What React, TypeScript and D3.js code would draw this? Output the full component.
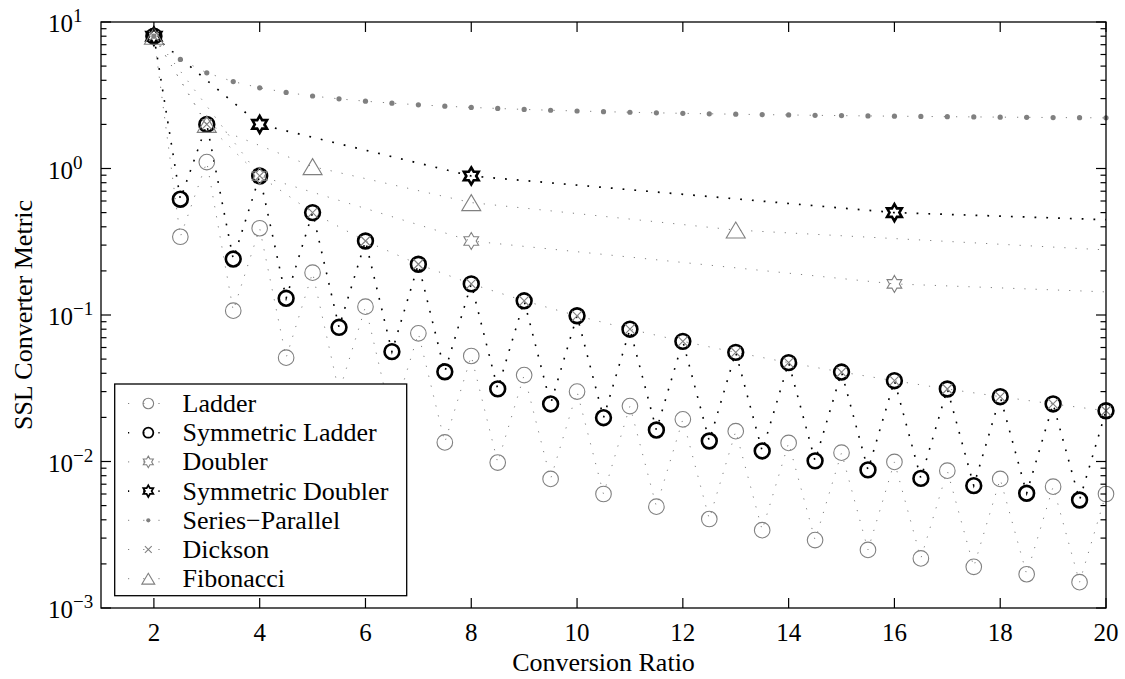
import React from "react";
import * as d3 from "d3";

// ---------- data ----------
const halfSteps = [2, 2.5, 3, 3.5, 4, 4.5, 5, 5.5, 6, 6.5, 7, 7.5, 8, 8.5, 9, 9.5, 10, 10.5, 11, 11.5, 12, 12.5, 13, 13.5, 14, 14.5, 15, 15.5, 16, 16.5, 17, 17.5, 18, 18.5, 19, 19.5, 20];
const ladderValues = [8, 0.342, 1.107, 0.107, 0.391, 0.0511, 0.1945, 0.0297, 0.114, 0.0191, 0.075, 0.0135, 0.0525, 0.00984, 0.0389, 0.0076, 0.03, 0.006, 0.0239, 0.00492, 0.0194, 0.00405, 0.0161, 0.0034, 0.0134, 0.00291, 0.01148, 0.00249, 0.00993, 0.00218, 0.00866, 0.00191, 0.0076, 0.0017, 0.00673, 0.0015, 0.006];
const symLadderValues = [8, 0.617, 2.0, 0.241, 0.889, 0.13, 0.5, 0.0824, 0.32, 0.0562, 0.222, 0.041, 0.163, 0.0313, 0.125, 0.0247, 0.0988, 0.0199, 0.08, 0.0164, 0.0661, 0.0138, 0.0556, 0.0118, 0.0473, 0.0101, 0.0408, 0.00876, 0.0356, 0.00767, 0.03125, 0.00684, 0.0277, 0.00607, 0.0247, 0.00546, 0.0222];
const seriesParallelValues = [8, 5.556, 4.5, 3.92, 3.556, 3.306, 3.125, 2.988, 2.88, 2.793, 2.722, 2.663, 2.612, 2.569, 2.531, 2.498, 2.469, 2.443, 2.42, 2.399, 2.38, 2.363, 2.347, 2.333, 2.32, 2.307, 2.296, 2.285, 2.276, 2.266, 2.258, 2.25, 2.242, 2.235, 2.228, 2.222, 2.216];
const integerSteps = [2, 3, 4, 5, 6, 7, 8, 9, 10, 11, 12, 13, 14, 15, 16, 17, 18, 19, 20];
const dicksonValues = [8, 2, 0.889, 0.5, 0.32, 0.222, 0.163, 0.125, 0.0988, 0.08, 0.0661, 0.0556, 0.0473, 0.0408, 0.0356, 0.03125, 0.0277, 0.0247, 0.0222];
const doublerSteps = [2, 4, 8, 16, 32];
const doublerValues = [8, 0.889, 0.32, 0.163, 0.0988];
const symDoublerValues = [8, 2, 0.889, 0.5, 0.32];
const fibonacciSteps = [2, 3, 5, 8, 13, 21];
const fibonacciValues = [8, 2, 1.03, 0.585, 0.38, 0.266];

const xTicks = [2, 4, 6, 8, 10, 12, 14, 16, 18, 20];
const yTickExponents = [1, 0, -1, -2, -3];

// ---------- layout ----------
const W = 1125;
const H = 679;
const L = 101, R = 1106, T = 22, B = 608;
const GRAY = "#808080";
const FONT = "Liberation Serif, Times New Roman, DejaVu Serif, serif";
const textStyle = { fontFamily: FONT };

const x = d3.scaleLinear().domain([1, 20]).range([L, R]);
const y = d3.scaleLog().domain([1e-3, 10]).range([B, T]);

type Marker = "circle" | "circleBold" | "hex" | "hexBold" | "dot" | "cross" | "tri";

function hexPath(R0: number) {
  const r0 = R0 / Math.sqrt(3);
  const pts: [number, number][] = [];
  for (let k = 0; k < 12; k++) {
    const a = ((-90 + k * 30) * Math.PI) / 180;
    const rr = k % 2 === 0 ? R0 : r0;
    pts.push([rr * Math.cos(a), rr * Math.sin(a)]);
  }
  return "M" + pts.map((p) => p[0].toFixed(2) + "," + p[1].toFixed(2)).join("L") + "Z";
}

function MarkerShape({ kind, cx, cy, s = 1 }: { kind: Marker; cx: number; cy: number; s?: number }) {
  const t = `translate(${cx},${cy}) scale(${s})`;
  switch (kind) {
    case "circle":
      return <circle transform={t} r={7.8} fill="none" stroke={GRAY} strokeWidth={1.1 / s} />;
    case "circleBold":
      return <circle transform={t} r={7.4} fill="none" stroke="#000" strokeWidth={2.6} />;
    case "hex":
      return <path transform={t} d={hexPath(8.5)} fill="none" stroke={GRAY} strokeWidth={1.1 / s} />;
    case "hexBold":
      return <path transform={t} d={hexPath(8.5)} fill="none" stroke="#000" strokeWidth={2.6} />;
    case "dot":
      return <circle transform={t} r={2.6} fill={GRAY} stroke="none" />;
    case "cross":
      return <path transform={t} d="M-5,-5L5,5M-5,5L5,-5" fill="none" stroke={GRAY} strokeWidth={1.1 / s} />;
    case "tri":
      return <path transform={t} d="M0,-8L9.5,8L-9.5,8Z" fill="none" stroke={GRAY} strokeWidth={1.1 / s} />;
  }
  return null;
}

type Series = {
  name: string;
  xs: number[];
  ys: number[];
  marker: Marker;
  color: string;
  width: number;
  dash: string;
};

const series: Series[] = [
  { name: "Ladder", xs: halfSteps, ys: ladderValues, marker: "circle", color: GRAY, width: 1, dash: "1.2,9" },
  { name: "Symmetric Ladder", xs: halfSteps, ys: symLadderValues, marker: "circleBold", color: "#000", width: 1.6, dash: "1.8,9" },
  { name: "Doubler", xs: doublerSteps, ys: doublerValues, marker: "hex", color: GRAY, width: 1, dash: "1.2,10" },
  { name: "Symmetric Doubler", xs: doublerSteps, ys: symDoublerValues, marker: "hexBold", color: "#000", width: 1.7, dash: "1.8,10" },
  { name: "Series\u2212Parallel", xs: halfSteps, ys: seriesParallelValues, marker: "dot", color: GRAY, width: 1, dash: "1.2,11" },
  { name: "Dickson", xs: integerSteps, ys: dicksonValues, marker: "cross", color: GRAY, width: 1, dash: "1.2,10" },
  { name: "Fibonacci", xs: fibonacciSteps, ys: fibonacciValues, marker: "tri", color: GRAY, width: 1, dash: "1.2,10" },
];

const line = d3
  .line<[number, number]>()
  .x((d) => x(d[0]))
  .y((d) => y(d[1]));

function superscriptLabel(e: number) {
  return e < 0 ? "\u2212" + Math.abs(e) : String(e);
}

export default function App() {
  const minor: number[] = [];
  for (let e = -3; e < 1; e++) for (let m = 2; m <= 9; m++) minor.push(m * Math.pow(10, e));

  const legendX = 114.7, legendY = 384, legendW = 292, legendH = 211.7;
  const rowH = 29.2;
  const firstRowY = 403.5;

  return (
    <svg width={W} height={H} style={{ position: "absolute", left: 0, top: 0, background: "#fff" }}>
      <defs>
        <clipPath id="plotClip">
          <rect x={L} y={T} width={R - L} height={B - T} />
        </clipPath>
      </defs>
      <rect x={0} y={0} width={W} height={H} fill="#fff" />

      {/* lines */}
      <g clipPath="url(#plotClip)">
        {series.map((s) => (
          <path
            key={s.name}
            d={line(s.xs.map((v, i) => [v, s.ys[i]] as [number, number])) || ""}
            fill="none"
            stroke={s.color}
            strokeWidth={s.width}
            strokeDasharray={s.dash}
          />
        ))}
      </g>

      {/* markers */}
      {series.map((s) => (
        <g key={s.name + "-m"}>
          {s.xs.map((v, i) =>
            v <= 20 ? <MarkerShape key={i} kind={s.marker} cx={x(v)} cy={y(s.ys[i])} /> : null
          )}
        </g>
      ))}

      {/* axes box */}
      <rect x={L} y={T} width={R - L} height={B - T} fill="none" stroke="#000" strokeWidth={1.3} />

      {/* x ticks */}
      {xTicks.map((t) => (
        <g key={"xt" + t}>
          <line x1={x(t)} x2={x(t)} y1={B} y2={B - 10} stroke="#000" strokeWidth={1.2} />
          <line x1={x(t)} x2={x(t)} y1={T} y2={T + 10} stroke="#000" strokeWidth={1.2} />
          <text x={x(t)} y={641} fontSize={25} textAnchor="middle" fill="#000" style={textStyle}>
            {t}
          </text>
        </g>
      ))}

      {/* y ticks */}
      {yTickExponents.map((e) => {
        const yy = y(Math.pow(10, e));
        return (
          <g key={"yt" + e}>
            <line x1={L} x2={L + 10} y1={yy} y2={yy} stroke="#000" strokeWidth={1.2} />
            <line x1={R} x2={R - 10} y1={yy} y2={yy} stroke="#000" strokeWidth={1.2} />
            <text x={48} y={yy + 10} fontSize={25} fill="#000" style={textStyle}>
              10
              <tspan fontSize={19} dy={-10}>
                {superscriptLabel(e)}
              </tspan>
            </text>
          </g>
        );
      })}
      {minor.map((m, i) => {
        const yy = y(m);
        return (
          <g key={"ym" + i}>
            <line x1={L} x2={L + 5.5} y1={yy} y2={yy} stroke="#000" strokeWidth={1.2} />
            <line x1={R} x2={R - 5.5} y1={yy} y2={yy} stroke="#000" strokeWidth={1.2} />
          </g>
        );
      })}

      {/* axis labels */}
      <text x={(L + R) / 2} y={671} fontSize={26} textAnchor="middle" fill="#000" style={textStyle}>
        Conversion Ratio
      </text>
      <text
        transform={`translate(32,${(T + B) / 2}) rotate(-90)`}
        fontSize={26}
        textAnchor="middle"
        fill="#000"
        style={textStyle}
      >
        SSL Converter Metric
      </text>

      {/* legend */}
      <rect x={legendX} y={legendY} width={legendW} height={legendH} fill="#fff" stroke="#000" strokeWidth={1.3} />
      {series.map((s, i) => {
        const cy = firstRowY + i * rowH;
        return (
          <g key={"lg" + s.name}>
            <line x1={128} x2={168} y1={cy} y2={cy} stroke={s.color} strokeWidth={s.width} strokeDasharray={"1.2,14"} />
            <MarkerShape kind={s.marker} cx={148.3} cy={cy} s={s.marker === "dot" ? 0.8 : 0.68} />
            <text x={182.5} y={cy + 8.5} fontSize={26} fill="#000" style={textStyle}>
              {s.name}
            </text>
          </g>
        );
      })}
    </svg>
  );
}
